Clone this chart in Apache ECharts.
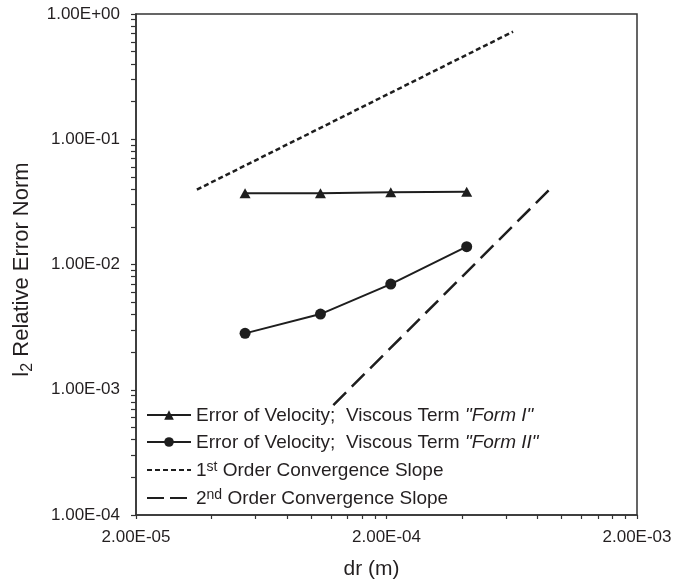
<!DOCTYPE html>
<html>
<head>
<meta charset="utf-8">
<script src="https://cdn.jsdelivr.net/npm/echarts@6/dist/echarts.min.js"></script>
<style>
  html, body { margin: 0; padding: 0; background: #fff; }
  #chart { width: 674px; height: 586px; }
</style>
</head>
<body>
<div id="chart"></div>
<script>
// Grid spacing dr (m) of the four refinement levels
const drValues = [5.45e-5, 1.09e-4, 2.08e-4, 4.18e-4];
// l2 relative error of velocity for the two viscous-term forms
const errFormI = [0.0370, 0.0370, 0.0377, 0.0381];
const errFormII = [0.00282, 0.00402, 0.00698, 0.01387];
// Reference convergence slopes (end points)
const firstOrderX = [3.5e-5, 6.4e-4];
const firstOrderY = [0.0396, 0.723];
const secondOrderX = [1.227e-4, 9.05e-4];
const secondOrderY = [7.55e-4, 0.0406];
// Axis ticks and labels
const xTickValues = [2e-5, 4e-5, 6e-5, 8e-5, 1e-4, 1.2e-4, 1.4e-4, 1.6e-4, 1.8e-4,
  2e-4, 4e-4, 6e-4, 8e-4, 1e-3, 1.2e-3, 1.4e-3, 1.6e-3, 1.8e-3, 2e-3];
const xLabelValues = [2e-5, 2e-4, 2e-3];
const yLabelValues = [1e-4, 1e-3, 1e-2, 1e-1, 1];
const yMantissas = [1, 2, 3, 4, 5, 6, 7, 8, 9];
const seriesNames = [
  'Error of Velocity;  Viscous Term "Form I"',
  'Error of Velocity;  Viscous Term "Form II"',
  '1st Order Convergence Slope',
  '2nd Order Convergence Slope'
];

const yTickValues = [];
yLabelValues.forEach(function (d, i) {
  if (i === yLabelValues.length - 1) { yTickValues.push(d); return; }
  yMantissas.forEach(function (m) { yTickValues.push(+(m * d).toPrecision(3)); });
});

function sci(v) {
  let e = Math.floor(Math.log10(v) + 1e-9);
  let m = v / Math.pow(10, e);
  return m.toFixed(2) + 'E' + (e < 0 ? '-' : '+') + String(Math.abs(e)).padStart(2, '0');
}

function pairs(xs, ys) { return xs.map(function (x, i) { return [x, ys[i]]; }); }

const ink = '#231f20';
const font = 'Liberation Sans, Arial, sans-serif';

const legendRich = {
  n: { fontSize: 19, fontFamily: font, color: ink, lineHeight: 20, verticalAlign: 'bottom' },
  i: { fontSize: 19, fontFamily: font, color: ink, fontStyle: 'italic', lineHeight: 20, verticalAlign: 'bottom' },
  s: { fontSize: 14, fontFamily: font, color: ink, lineHeight: 13, verticalAlign: 'top' }
};

const legendLabels = {};
legendLabels[seriesNames[0]] = '{n|Error of Velocity;  Viscous Term }{i|"Form I"}';
legendLabels[seriesNames[1]] = '{n|Error of Velocity;  Viscous Term }{i|"Form II"}';
legendLabels[seriesNames[2]] = '{n|1}{s|st}{n| Order Convergence Slope}';
legendLabels[seriesNames[3]] = '{n|2}{s|nd}{n| Order Convergence Slope}';

const chart = echarts.init(document.getElementById('chart'), null, { renderer: 'canvas' });

chart.setOption({
  animation: false,
  backgroundColor: '#fff',
  grid: {
    left: 136, right: 37, top: 14, bottom: 71,
    show: true, borderColor: '#333', borderWidth: 1.5,
    outerBoundsMode: 'none'
  },
  legend: {
    orient: 'vertical',
    left: 146,
    top: 406,
    padding: 0,
    itemWidth: 44,
    itemHeight: 12,
    itemGap: 8,
    itemTextGap: 3,
    selectedMode: false,
    data: [
      { name: seriesNames[0] },
      { name: seriesNames[1] },
      { name: seriesNames[2], itemStyle: { opacity: 0 }, lineStyle: { type: [5, 3] } },
      { name: seriesNames[3], itemStyle: { opacity: 0 }, lineStyle: { type: [17, 6] } }
    ],
    formatter: function (name) { return legendLabels[name]; },
    textStyle: { rich: legendRich, color: ink, fontSize: 19, fontFamily: font }
  },
  xAxis: {
    type: 'log',
    logBase: 10,
    min: 2e-5,
    max: 2e-3,
    name: 'dr (m)',
    nameLocation: 'middle',
    nameGap: 44,
    nameTextStyle: { fontSize: 21, fontFamily: font, color: ink, padding: [0, 30, 0, 0] },
    axisLine: { show: true, lineStyle: { color: '#333', width: 1.5 } },
    axisTick: { show: true, inside: false, length: 4, customValues: xTickValues, lineStyle: { color: '#333', width: 1.2 } },
    axisLabel: { show: true, margin: 14, customValues: xLabelValues, formatter: sci, fontSize: 17, fontFamily: font, color: ink },
    splitLine: { show: false },
    minorTick: { show: false }
  },
  yAxis: {
    type: 'log',
    logBase: 10,
    min: 1e-4,
    max: 1,
    name: '{a|l}{b|2}{a| Relative Error Norm}',
    nameLocation: 'middle',
    nameGap: 95,
    nameTextStyle: {
      color: ink,
      padding: [0, 10, 0, 0],
      rich: {
        a: { fontSize: 22, fontFamily: font, color: ink, lineHeight: 25, verticalAlign: 'top' },
        b: { fontSize: 16, fontFamily: font, color: ink, lineHeight: 16, verticalAlign: 'bottom' }
      }
    },
    axisLine: { show: true, lineStyle: { color: '#333', width: 1.5 } },
    axisTick: { show: true, inside: false, length: 5, customValues: yTickValues, lineStyle: { color: '#333', width: 1.2 } },
    axisLabel: { show: true, margin: 16, customValues: yLabelValues, formatter: sci, fontSize: 17, fontFamily: font, color: ink },
    splitLine: { show: false },
    minorTick: { show: false }
  },
  series: [
    {
      name: seriesNames[0],
      type: 'line',
      data: pairs(drValues, errFormI),
      symbol: 'triangle',
      symbolSize: [11, 10],
      showAllSymbol: true,
      lineStyle: { color: '#1e1e1e', width: 2 },
      itemStyle: { color: '#1e1e1e' }
    },
    {
      name: seriesNames[1],
      type: 'line',
      data: pairs(drValues, errFormII),
      symbol: 'circle',
      symbolSize: 11,
      showAllSymbol: true,
      lineStyle: { color: '#1e1e1e', width: 2 },
      itemStyle: { color: '#1e1e1e' }
    },
    {
      name: seriesNames[2],
      type: 'line',
      data: pairs(firstOrderX, firstOrderY),
      symbol: 'none',
      lineStyle: { color: '#1e1e1e', width: 2.5, type: [5, 3] },
      itemStyle: { color: '#1e1e1e' }
    },
    {
      name: seriesNames[3],
      type: 'line',
      data: pairs(secondOrderX, secondOrderY),
      symbol: 'none',
      lineStyle: { color: '#1e1e1e', width: 2.5, type: [18, 8] },
      itemStyle: { color: '#1e1e1e' }
    }
  ]
});
</script>
</body>
</html>
